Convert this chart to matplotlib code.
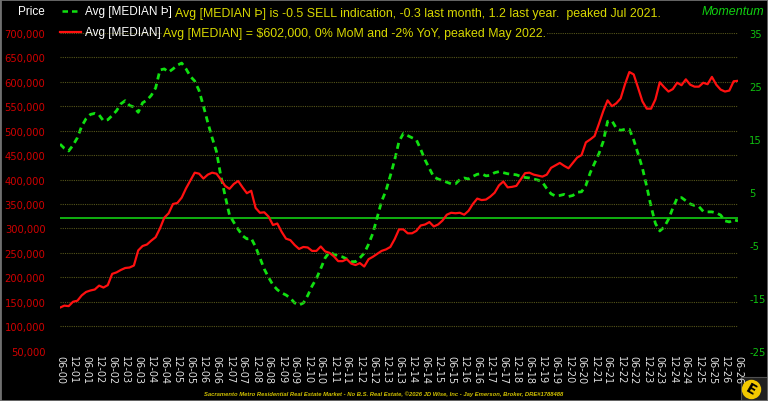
import matplotlib; matplotlib.use("Agg")
import matplotlib.pyplot as plt
from matplotlib.lines import Line2D
from matplotlib.patches import Rectangle

# month index (0 = Jun 2000), one value every 2 months
months = list(range(0, 313, 2))
# Avg [MEDIAN] price, thousands of $
median_k = [138, 142, 141, 150, 152, 163, 170, 173, 175, 183, 179, 184, 207, 210, 215, 219, 220, 224, 255, 264,
            267, 275, 282, 300, 322, 331, 350, 352, 363, 382, 398, 414, 412, 402, 410, 414, 412, 400, 387, 381,
            391, 397, 384, 372, 377, 342, 332, 333, 324, 307, 310, 293, 279, 276, 266, 258, 262, 261, 254, 254,
            263, 253, 250, 243, 233, 233, 237, 228, 225, 229, 222, 237, 242, 248, 254, 257, 262, 278, 298, 298,
            290, 290, 295, 306, 308, 313, 304, 308, 316, 328, 332, 331, 332, 328, 336, 350, 361, 358, 359, 365,
            373, 388, 396, 384, 385, 387, 400, 413, 414, 410, 408, 406, 410, 424, 429, 434, 428, 423, 434, 445,
            450, 476, 482, 489, 514, 540, 562, 550, 556, 566, 595, 620, 615, 588, 560, 545, 545, 564, 599, 589,
            580, 585, 598, 593, 605, 594, 590, 590, 598, 595, 610, 594, 584, 580, 582, 601, 602]
# Avg [MEDIAN Þ] momentum
momentum = [14.0, 13.2, 12.7, 13.8, 15.2, 17.4, 18.8, 19.6, 19.8, 19.5, 18.4, 18.6, 19.4, 20.3, 21.6, 22.2, 21.3, 21.0,
            20.0, 21.8, 22.3, 23.2, 24.6, 28.0, 28.2, 27.6, 28.2, 28.9, 29.3, 28.2, 26.8, 25.9, 24.1, 21.2, 18.1, 15.2,
            12.6, 8.0, 4.2, 0.6, -0.8, -2.1, -3.3, -3.9, -3.8, -5.4, -7.5, -9.6, -11.2, -12.6, -13.5, -14.1, -14.5,
            -15.1, -16.0, -16.4, -16.0, -14.6, -12.8, -11.4, -9.5, -7.5, -6.4, -6.8, -7.1, -7.3, -7.7, -8.2, -8.2,
            -7.5, -6.6, -4.9, -2.8, 0.2, 3.2, 5.2, 8.0, 11.0, 14.5, 16.0, 15.6, 15.2, 14.8, 13.0, 11.0, 9.4, 7.8, 7.4,
            7.1, 6.8, 6.5, 6.5, 7.3, 7.6, 7.4, 7.9, 8.3, 8.4, 8.0, 8.1, 8.6, 8.8, 8.6, 8.4, 8.3, 8.2, 7.9, 7.7, 7.6,
            7.4, 7.2, 6.8, 5.6, 4.6, 4.2, 4.3, 4.5, 4.1, 4.3, 4.9, 5.0, 6.2, 8.6, 10.4, 12.2, 14.5, 18.3, 18.4, 17.0,
            16.6, 16.8, 16.8, 14.8, 12.2, 9.5, 6.0, 2.2, -1.0, -2.4, -1.7, -0.2, 1.9, 3.8, 3.9, 3.3, 2.7, 2.4, 2.2,
            1.3, 1.2, 1.2, 1.0, 0.6, -0.5, -0.7, -0.3, -0.5]

tick_pos = list(range(0, 313, 6))
tick_lbl = [("06" if i % 12 == 0 else "12") + "-%02d" % ((i + 6) // 12) for i in tick_pos]
price_ticks = list(range(50000, 700001, 50000))
mom_ticks = [-25, -15, -5, 5, 15, 25, 35]

FIG_W, FIG_H = 768, 402
fig = plt.figure(figsize=(7.68, 4.02), dpi=100, facecolor="black")
def fx(px): return px / FIG_W
def fy(py): return 1 - py / FIG_H

ax = fig.add_axes([fx(60), fy(351.6), fx(738) - fx(60), fy(33.9) - fy(351.6)])
ax2 = ax.twinx()
ax.set_zorder(ax2.get_zorder() + 1); ax.patch.set_visible(False)
ax2.set_facecolor("black")

for v in price_ticks:
    ax.axhline(v, color="#55551a", lw=0.8, ls=(0, (1, 1)), zorder=0)
ax2.axhline(0, color="#10b010", lw=1.4, zorder=1)
ax2.plot(months, momentum, color="#10e010", lw=2.0, ls=(0, (2.2, 1.6)), zorder=2)
ax.plot(months, [v * 1000 for v in median_k], color="#ff1010", lw=1.6, zorder=3)

ax.set_xlim(0, 312); ax.set_ylim(50000, 700000)
ax2.set_ylim(-25, 35)
ax.set_yticks(price_ticks)
ax.set_yticklabels([f"{v:,}" for v in price_ticks], color="#d00000", fontsize=7.2)
ax2.set_yticks(mom_ticks)
ax2.set_yticklabels([str(v) for v in mom_ticks], color="#10c010", fontsize=7.2)
ax.set_xticks(tick_pos)
ax.set_xticklabels(tick_lbl, rotation=270, color="#e0e0e0", fontsize=7, va="top", ha="center")
ax.tick_params(axis="y", length=0, pad=10.5)
ax.tick_params(axis="x", length=0, pad=3)
ax2.tick_params(axis="y", length=0, pad=8)
for a in (ax, ax2):
    for s in a.spines.values(): s.set_visible(False)

# header / legend
fig.text(fx(18), fy(12), "Price", color="white", fontsize=8.5, va="center", family="Liberation Sans")
fig.add_artist(Line2D([fx(62), fx(80)], [fy(12), fy(12)], color="#10e010", lw=1.8, ls=(0, (2.2, 1.6))))
fig.add_artist(Line2D([fx(60), fx(81)], [fy(33), fy(33)], color="#ff1010", lw=1.6))
fig.text(fx(85), fy(12), "Avg [MEDIAN Þ]", color="white", fontsize=8.5, va="center", family="Liberation Sans")
fig.text(fx(85), fy(33), "Avg [MEDIAN]", color="white", fontsize=8.5, va="center", family="Liberation Sans")
fig.text(fx(175), fy(14), "Avg [MEDIAN Þ] is -0.5 SELL indication, -0.3 last month, 1.2 last year.  peaked Jul 2021.",
         color="#d8d800", fontsize=8.9, va="center", family="Liberation Sans")
fig.text(fx(163), fy(34), "Avg [MEDIAN] = $602,000, 0% MoM and -2% YoY, peaked May 2022.",
         color="#d8d800", fontsize=8.9, va="center", family="Liberation Sans",
         bbox=dict(facecolor="black", edgecolor="none", pad=0.5))
fig.text(fx(764), fy(12), "Momentum", color="#10d010", fontsize=9, style="italic", ha="right", va="center",
         family="Liberation Sans")
fig.text(fx(384), fy(394), "Sacramento Metro Residential Real Estate Market - No B.S. Real Estate, ©2026 JD Wise, Inc"
         " - Jay Emerson, Broker, DRE#1788488", color="#d0c000", fontsize=4.2, style="italic", weight="bold",
         ha="center", va="center", family="Liberation Sans")

# logo
fig.add_artist(Rectangle((fx(741), fy(402)), fx(27), fy(378) - fy(402), transform=fig.transFigure,
                         facecolor="#202020", edgecolor="#505050", lw=0.8))
fig.add_artist(Line2D([fx(750.5)], [fy(389.5)], marker="o", markersize=14, color="#f2c800", markeredgewidth=0))
fig.text(fx(750.5), fy(389.5), "E", color="black", fontsize=10, weight="bold", ha="center", va="center",
         rotation=-30)
fig.add_artist(Rectangle((0, 0), 1, 1, transform=fig.transFigure, fill=False, edgecolor="#707070", lw=2))

fig.savefig("out.png", dpi=100, facecolor="black")
